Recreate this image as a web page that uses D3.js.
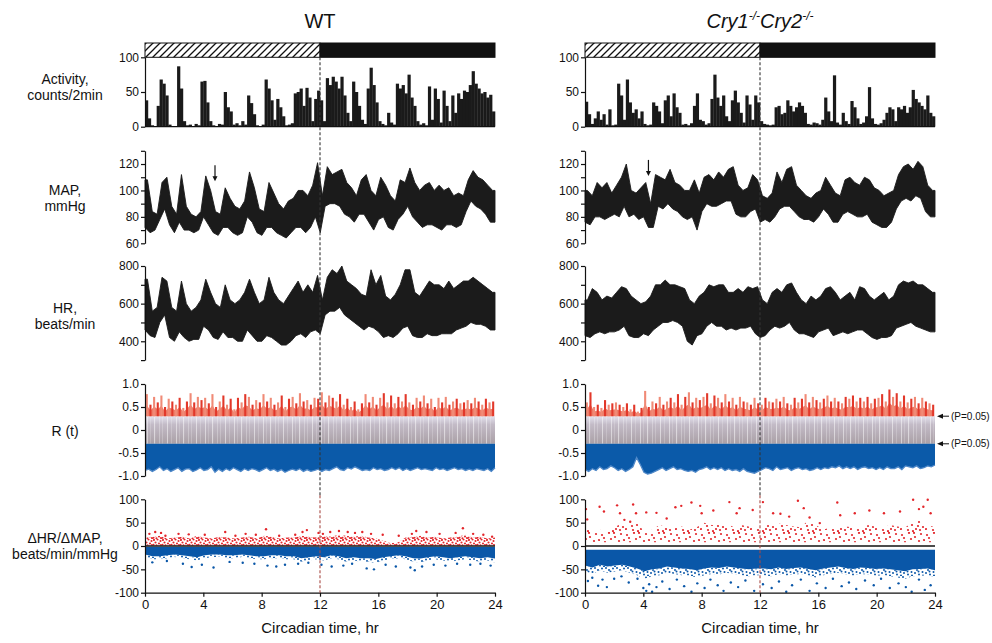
<!DOCTYPE html>
<meta charset="utf-8">
<body style="margin:0;background:#fff">
</body>
<script src="https://d3js.org/d3.v7.min.js"></script>
<script>

// ---------- data ----------
var hourTicks = [0, 4, 8, 12, 16, 20, 24];
var lightDark = [[0, 12, "light"], [12, 24, "dark"]];

// activity, counts/2min, one value every 12 min (5 per hour)
var actWT = [38,12,2,1,30, 68,62,45,3,1, 1,87,55,8,2, 3,1,4,2,65, 66,35,8,2,1, 4,3,50,28,22,
  3,5,2,8,3, 45,34,18,2,1, 3,68,55,38,10, 40,28,15,2,3, 5,48,50,55,30, 56,42,8,40,52,
  38,8,70,60,72, 65,55,72,45,20, 8,65,50,30,10, 4,55,85,60,35, 8,4,2,20,6, 3,62,55,60,48,
  75,42,30,8,3, 5,2,58,10,55, 40,6,52,30,8, 45,20,48,40,52, 50,60,80,62,55, 48,50,42,46,22];
var actCry = [36,18,4,12,22, 10,18,3,25,2, 3,62,45,10,68, 35,20,25,12,22, 4,2,3,35,30, 22,5,38,45,15,
  48,28,20,3,4, 2,5,30,48,10, 8,3,5,40,75, 42,30,45,15,8, 38,52,35,20,6, 45,32,10,45,35,
  8,4,3,2,3, 28,30,18,20,38, 30,22,28,35,30, 20,4,3,6,5, 3,10,42,22,8, 74,6,3,20,8,
  4,37,28,12,4, 6,15,57,12,4, 3,5,10,20,28, 25,8,28,25,30, 20,28,53,40,35, 30,25,45,20,15];

// MAP, mmHg: max / min of each 20-min stretch
var mapHiWT = [108,84,82, 106,110,88, 82,112,88, 82,80,84, 111,100,84, 82,102,94, 88,86,92, 114,102,86,
  84,106,98, 90,86,92, 94,100,100, 96,104,121, 96,118,112, 114,116,106, 102,96,108, 112,100,96,
  110,104,96, 92,108,106, 117,106,100, 104,106,100, 104,100,102, 96,98,96, 108,115,110, 108,104,100];
var mapLoWT = [72,68,70, 78,86,74, 68,76,70, 70,68,70, 80,74,68, 66,72,72, 68,66,68, 80,76,68,
  66,72,72, 68,66,64, 68,72,72, 68,72,80, 68,88,90, 90,88,82, 80,76,82, 82,76,70,
  78,80,72, 70,78,82, 88,80,76, 72,74,74, 72,70,74, 74,72,74, 84,92,88, 86,82,76];
var mapHiCry = [100,96,106, 102,106,98, 104,110,120, 100,98,102, 106,90,112, 110,108,116, 106,104,100, 100,108,98,
  110,112,108, 114,110,116, 118,104,100, 102,112,108, 96,94,98, 114,106,116, 118,104,100, 96,94,98,
  100,110,104, 98,96,108, 110,106,104, 110,108,102, 100,96,98, 100,112,118, 120,116,122, 118,104,100];
var mapLoCry = [76,74,80, 80,78,80, 82,80,88, 80,82,78, 80,72,72, 88,86,90, 86,84,80, 78,80,70,
  84,90,88, 88,90,92, 92,82,80, 80,84,86, 76,78,76, 80,86,88, 88,84,80, 78,78,76,
  80,86,82, 76,76,82, 84,82,80, 80,82,76, 74,72,72, 76,86,92, 94,92,96, 94,84,80];

// HR, beats/min: max / min of each 20-min stretch
var hrHiWT = [730,560,580, 740,720,580, 560,720,600, 560,580,620, 730,660,600, 580,700,620, 600,620,660, 730,660,600,
  620,740,660, 620,600,640, 680,720,660, 700,660,750, 620,740,780, 760,800,720, 700,680,650, 640,780,700,
  750,640,620, 650,700,780, 780,660,640, 680,720,700, 700,680,720, 680,700,720, 720,740,720, 700,680,660];
var hrLoWT = [460,430,420, 500,540,420, 400,450,420, 400,410,410, 480,460,420, 410,450,420, 420,400,400, 460,430,400,
  400,430,420, 400,380,380, 400,430,440, 420,450,460, 440,540,560, 560,580,540, 520,500,480, 460,480,470,
  450,420,430, 420,440,470, 480,430,420, 420,440,430, 430,440,440, 440,460,470, 480,500,490, 490,480,460];
var hrHiCry = [620,680,660, 620,640,630, 660,690,680, 640,620,600, 610,640,700, 700,725,700, 700,690,680, 620,600,640,
  660,700,690, 700,700,660, 660,680,660, 690,680,690, 620,600,660, 680,660,700, 710,660,620, 600,640,620,
  640,680,690, 660,620,640, 660,620,690, 680,640,620, 640,660,620, 640,700,720, 710,720,700, 700,680,660];
var hrLoCry = [430,420,440, 450,440,450, 450,460,480, 430,420,420, 440,430,460, 480,500,500, 510,500,480, 400,380,430,
  440,480,500, 480,480,460, 470,460,470, 470,480,440, 420,430,460, 480,470,480, 500,460,440, 440,430,420,
  450,460,470, 430,440,450, 440,450,460, 460,440,420, 410,420,420, 430,470,480, 490,500,480, 470,460,450];

// R(t): highest positive and lowest negative value of each 15-min stretch
var rThreshold = [-0.3, 0.3];
var rUpWT = [.78,.55,.72,.6, .75,.5,.68,.62, .55,.7,.48,.62, .8,.6,.72,.65, .7,.58,.78,.5, .62,.75,.55,.68,
  .45,.7,.6,.78, .72,.55,.65,.6, .78,.62,.7,.55, .6,.75,.5,.68, .72,.58,.8,.62, .65,.55,.7,.68,
  .82,.6,.75,.7, .62,.78,.55,.68, .5,.62,.45,.58, .78,.6,.72,.55, .7,.8,.6,.75, .58,.72,.62,.78,
  .6,.55,.7,.62, .75,.58,.68,.5, .7,.6,.72,.55, .62,.68,.58,.6, .65,.58,.7,.62, .55,.68,.6,.62];
var rLowWT = [-.88,-.85,-.9,-.86, -.8,-.88,-.84,-.9, -.86,-.82,-.9,-.85, -.84,-.9,-.87,-.82, -.88,-.86,-.8,-.92, -.85,-.9,-.84,-.88,
  -.82,-.86,-.9,-.84, -.88,-.84,-.86,-.9, -.86,-.82,-.88,-.85, -.9,-.86,-.92,-.88, -.85,-.88,-.84,-.9, -.86,-.9,-.88,-.85,
  -.9,-.86,-.88,-.84, -.8,-.86,-.88,-.82, -.85,-.8,-.84,-.88, -.86,-.88,-.82,-.86, -.84,-.88,-.86,-.82, -.86,-.82,-.88,-.84,
  -.88,-.85,-.82,-.86, -.84,-.86,-.88,-.82, -.86,-.84,-.88,-.85, -.82,-.86,-.84,-.88, -.85,-.88,-.84,-.86, -.88,-.84,-.9,-.82];
var rUpCry = [.6,.82,.5,.55, .48,.65,.55,.58, .6,.55,.5,.58, .45,.55,.4,.48, .85,.5,.62,.58, .72,.55,.62,.7,
  .6,.78,.55,.72, .82,.6,.7,.65, .72,.8,.58,.75, .7,.6,.78,.62, .7,.55,.72,.62, .6,.55,.7,.58,
  .55,.7,.62,.6, .68,.62,.72,.58, .55,.7,.6,.68, .78,.6,.72,.65, .6,.68,.75,.62, .7,.62,.58,.72,
  .68,.75,.62,.7, .62,.72,.58,.68, .7,.78,.62,.88, .72,.8,.62,.75, .6,.68,.72,.58, .7,.62,.58,.55];
var rLowCry = [-.86,-.9,-.84,-.88, -.8,-.86,-.84,-.78, -.82,-.88,-.84,-.9, -.86,-.8,-.6,-.75, -.92,-.96,-.94,-.9, -.86,-.82,-.88,-.84,
  -.8,-.86,-.84,-.88, -.9,-.88,-.92,-.86, -.84,-.8,-.86,-.82, -.86,-.82,-.88,-.84, -.88,-.86,-.9,-.84, -.9,-.92,-.94,-.9,
  -.86,-.82,-.84,-.88, -.8,-.86,-.84,-.82, -.88,-.84,-.82,-.86, -.84,-.88,-.86,-.82, -.86,-.82,-.84,-.8, -.82,-.78,-.84,-.8,
  -.84,-.8,-.86,-.82, -.8,-.84,-.82,-.86, -.82,-.86,-.8,-.84, -.84,-.8,-.86,-.78, -.8,-.82,-.78,-.84, -.82,-.78,-.8,-.76];

// dHR/dMAP: edges of the dense clouds (every 30 min) and the stray points
var dRedBase = [1, 8];
var dBlueTop = [-2, -8];
var dRedTopWT = [18,20, 22,16, 18,20, 16,22, 18,16, 20,18, 16,18, 20,16, 22,20, 16,18, 18,22, 20,18,
  22,20, 24,22, 20,22, 18,16, 12,6, 8,18, 20,22, 18,20, 16,18, 20,24, 18,20, 16,18];
var dBlueBotWT = [-18,-22, -22,-20, -18,-20, -22,-24, -20,-18, -18,-20, -20,-18, -20,-22, -22,-20, -20,-22, -22,-26, -24,-22,
  -24,-20, -22,-26, -24,-26, -26,-28, -24,-22, -20,-22, -26,-27, -24,-22, -24,-26, -24,-22, -24,-26, -24,-27];
var dRedTopCry = [40,30, 35,30, 40,50, 45,50, 30,35, 45,40, 38,42, 35,40, 50,45, 45,48, 40,45, 42,38,
  40,50, 48,45, 42,40, 55,45, 35,40, 38,42, 40,38, 45,42, 40,45, 42,40, 50,55, 45,40];
var dBlueBotCry = [-42,-46, -40,-44, -42,-40, -44,-48, -54,-50, -48,-44, -46,-48, -49,-52, -48,-46, -47,-44, -46,-48, -50,-48,
  -48,-50, -46,-49, -47,-46, -49,-52, -48,-46, -44,-47, -49,-46, -47,-49, -48,-50, -52,-54, -50,-49, -48,-52];
var dRedOutWT = [[0.3,26],[0.7,30],[1.1,28],[1.4,22],[2.3,26],[3.0,25],[4.1,24],[5.5,30],[6.2,22],[6.9,26],[7.6,24],
  [8.3,36],[9.2,22],[10.3,24],[10.8,30],[11.1,34],[11.9,28],[12.2,26],[12.7,30],[13.3,32],[13.9,30],[14.4,28],
  [14.9,30],[15.5,26],[16.3,24],[17.4,22],[18.3,26],[18.6,32],[19.3,30],[20.2,26],[21.3,28],[21.8,38],[22.5,26],
  [23.2,24],[23.8,20]];
var dBlueOutWT = [[0.5,-35],[1.5,-32],[2.6,-38],[3.2,-45],[3.9,-40],[4.7,-46],[5.8,-34],[6.7,-36],[7.5,-38],[8.4,-42],
  [9.0,-44],[9.6,-40],[10.5,-38],[11.2,-36],[12.1,-40],[12.8,-44],[13.6,-42],[14.2,-38],[15.2,-48],[15.7,-50],
  [16.5,-40],[17.2,-44],[18.2,-46],[18.5,-52],[19.0,-44],[19.8,-40],[20.6,-42],[21.4,-38],[22.3,-40],[23.0,-38],[23.7,-42]];
var dRedOutCry = [[0.07,79],[0.15,57],[1.0,84],[1.3,74],[2.2,87],[2.4,70],[2.7,56],[3.3,89],[3.5,70],[3.1,52],[4.2,72],
  [4.9,71],[5.6,59],[6.2,83],[6.6,86],[7.3,93],[7.9,86],[8.0,70],[8.8,76],[9.9,94],[10.4,70],[10.6,81],[11.5,77],
  [12.2,94],[12.9,70],[13.4,69],[14.0,63],[14.6,97],[15.0,81],[15.4,61],[16.1,49],[17.3,93],[17.5,66],[18.5,70],
  [19.5,76],[20.5,70],[21.6,74],[22.5,99],[22.9,79],[23.2,84],[23.5,99],[23.7,70]];
var dBlueOutCry = [[0.2,-75],[0.5,-68],[0.9,-85],[1.2,-72],[1.5,-88],[2.0,-70],[2.5,-65],[3.0,-78],[3.6,-70],[4.0,-90],
  [4.2,-96],[4.4,-82],[4.6,-98],[4.9,-88],[5.3,-76],[5.8,-92],[6.3,-72],[6.8,-86],[7.3,-98],[7.7,-80],[8.2,-90],
  [8.6,-72],[9.1,-84],[9.5,-96],[10.0,-78],[10.5,-88],[11.0,-74],[11.6,-96],[12.2,-82],[12.8,-90],[13.3,-76],
  [13.8,-98],[14.2,-84],[14.8,-72],[15.4,-96],[15.9,-80],[16.5,-90],[17.0,-70],[17.6,-86],[18.1,-78],[18.6,-92],
  [19.2,-74],[19.8,-84],[20.3,-70],[20.9,-90],[21.5,-80],[22.0,-88],[22.4,-98],[22.9,-72],[23.3,-94],[23.7,-84]];

// arrows on the MAP trace (hour, MAP at the tip)
var mapArrowHour = [4.8, 4.35];
var mapArrowTip = [107, 111];

// axes
var actTicks = [0, 50, 100];
var mapTicks = [60, 70, 80, 90, 100, 110, 120, 130];
var hrTicks = [300, 400, 500, 600, 700, 800];
var rTicks = [-1, -0.5, 0, 0.5, 1];
var rTickLabels = ["-1.0", "-0.5", "0", "0.5", "1.0"];
var dTicks = [-100, -50, 0, 50, 100];
var dTickLabels = ["-100", "-50", "0", "50", "100"];
var rowLabels = [["Activity,", "counts/2min"], ["MAP,", "mmHg"], ["HR,", "beats/min"], ["R (t)"], ["\u0394HR/\u0394MAP,", "beats/min/mmHg"]];

// ---------- drawing ----------
var font = "'Liberation Sans', Arial, Helvetica, sans-serif";
var svg = d3.select("body").append("svg")
  .attr("width", 992)
  .attr("height", 643)
  .style("font-family", font);

var yAct = d3.scaleLinear().domain([0, 100]).range([126.7, 57.3]);
var yMap = d3.scaleLinear().domain([60, 130]).range([243.3, 150.8]);
var yHr = d3.scaleLinear().domain([300, 800]).range([360.1, 266]);
var yR = d3.scaleLinear().domain([-1, 1]).range([476, 384]);
var yD = d3.scaleLinear().domain([-100, 100]).range([592.7, 499.3]);

var defs = svg.append("defs");
var hatch = defs.append("pattern").attr("id", "hatch").attr("patternUnits", "userSpaceOnUse")
  .attr("width", 7).attr("height", 7);
hatch.append("rect").attr("width", 7).attr("height", 7).attr("fill", "#fff");
hatch.append("path").attr("d", "M-1,1 L1,-1 M0,7 L7,0 M6,8 L8,6")
  .attr("stroke", "#111").attr("stroke-width", 1.3);

var grey = defs.append("linearGradient").attr("id", "greyBand")
  .attr("x1", 0).attr("y1", 0).attr("x2", 0).attr("y2", 1);
grey.append("stop").attr("offset", "0%").attr("stop-color", "#e4e2ee");
grey.append("stop").attr("offset", "30%").attr("stop-color", "#c3bbc7");
grey.append("stop").attr("offset", "100%").attr("stop-color", "#aaa0a6");

var streaks = defs.append("pattern").attr("id", "streaks").attr("patternUnits", "userSpaceOnUse")
  .attr("width", 29).attr("height", 60);
[[2, 0.8, 0.6], [5.5, 0.5, 0.35], [9, 1.1, 0.5], [14.5, 0.4, 0.7], [17, 0.7, 0.3], [22, 0.9, 0.55], [26, 0.5, 0.4]].forEach(function(s) {
  streaks.append("rect").attr("x", s[0]).attr("width", s[1]).attr("height", 60)
    .attr("fill", "#fff").attr("opacity", s[2]);
});

function dotPattern(id, w, h, pts, color, r) {
  var p = defs.append("pattern").attr("id", id).attr("patternUnits", "userSpaceOnUse")
    .attr("width", w).attr("height", h);
  pts.forEach(function(c) {
    p.append("circle").attr("cx", c[0]).attr("cy", c[1]).attr("r", r).attr("fill", color);
  });
}
dotPattern("redDense", 9, 7, [[1, 1], [4.5, 0.5], [7.5, 2], [2.5, 3.5], [6, 4.5], [0.5, 5.8], [3.5, 6.2], [8, 6]], "#e3262b", 1.05);
dotPattern("redSparse", 25, 19, [[2, 3], [9, 1], [15, 5], [21, 2], [5, 10], [12, 12], [19, 9], [23, 14], [1, 16], [8, 17],
  [16, 16], [11, 7], [18, 13], [4, 6], [24, 8], [13, 18], [7, 13], [20, 17], [14, 1]], "#e3262b", 1.1);
dotPattern("blueDots", 11, 9, [[1, 1], [4, 3], [8, 1.5], [2, 6], [6, 7.5], [9.5, 5], [10, 8.5], [5.5, 4.5]], "#0a57a8", 1);

function yAxis(g, scale, ticks, fmt, x0) {
  var ax = d3.axisLeft(scale).tickValues(ticks).tickSize(4).tickSizeOuter(0).tickPadding(2).tickFormat(fmt);
  var a = g.append("g").attr("transform", "translate(" + x0 + ",0)").call(ax);
  a.selectAll("text").attr("font-size", 12).attr("font-family", font).attr("fill", "#111");
  a.selectAll("line,path").attr("stroke", "#111").attr("stroke-width", 1.2);
  return a;
}

// black trace: band between each stretch's max and min, the two edges placed half a stretch apart
function drawTrace(g, x, y, hi, lo) {
  var n = hi.length, dt = 24 / n;
  var top = hi.map(function(v, i) { return [(i + 0.5) * dt, v]; });
  var bottom = lo.map(function(v, i) { return [i * dt + (i === 0 ? 0 : 0.05 * dt), v]; });
  bottom.push([24, lo[n - 1]]);
  top.unshift([0, hi[0]]);
  top.push([24, hi[n - 1]]);
  var pts = top.concat(bottom.reverse());
  g.append("path")
    .attr("d", d3.line().x(function(d) { return x(d[0]); }).y(function(d) { return y(d[1]); })(pts) + "Z")
    .attr("fill", "#1b1b1b").attr("stroke", "#1b1b1b").attr("stroke-width", 0.9).attr("stroke-linejoin", "miter");
}

function drawPanel(p) {
  var x = d3.scaleLinear().domain([0, 24]).range(p.range);
  var g = svg.append("g");

  // light / dark bar
  g.selectAll(".ld").data(lightDark).join("rect")
    .attr("x", function(d) { return x(d[0]); })
    .attr("width", function(d) { return x(d[1]) - x(d[0]); })
    .attr("y", 43).attr("height", yAct(100) - 43)
    .attr("fill", function(d) { return d[2] === "light" ? "url(#hatch)" : "#111"; })
    .attr("stroke", "#111").attr("stroke-width", 1);

  // activity bars
  var bw = (x(24) - x(0)) / p.act.length;
  g.selectAll(".act").data(p.act).join("rect")
    .attr("x", function(d, i) { return x(0) + i * bw; })
    .attr("width", bw + 0.3)
    .attr("y", function(d) { return yAct(d); })
    .attr("height", function(d) { return yAct(0) - yAct(d); })
    .attr("fill", "#1a1a1a");
  g.append("line").attr("x1", x(0)).attr("x2", x(24)).attr("y1", yAct(0)).attr("y2", yAct(0))
    .attr("stroke", "#111").attr("stroke-width", 1.3);
  yAxis(g, yAct, actTicks, d3.format("d"), x(0));

  // MAP
  drawTrace(g, x, yMap, p.mapHi, p.mapLo);
  yAxis(g, yMap, mapTicks, function(d) { return d % 20 === 0 && d <= 120 ? d : ""; }, x(0));
  var ax = x(p.arrowHour), ay = yMap(p.arrowTip);
  g.append("line").attr("x1", ax).attr("x2", ax).attr("y1", ay - 16).attr("y2", ay - 4)
    .attr("stroke", "#111").attr("stroke-width", 1.2);
  g.append("path").attr("d", "M" + (ax - 2.5) + "," + (ay - 5) + " L" + (ax + 2.5) + "," + (ay - 5) + " L" + ax + "," + ay + " Z")
    .attr("fill", "#111");

  // HR
  drawTrace(g, x, yHr, p.hrHi, p.hrLo);
  yAxis(g, yHr, hrTicks, function(d) { return d % 200 === 0 ? d : ""; }, x(0));

  // R(t)
  g.append("rect").attr("x", x(0)).attr("width", x(24) - x(0))
    .attr("y", yR(rThreshold[1])).attr("height", yR(rThreshold[0]) - yR(rThreshold[1]))
    .attr("fill", "url(#greyBand)");
  g.append("rect").attr("x", x(0)).attr("width", x(24) - x(0))
    .attr("y", yR(rThreshold[1])).attr("height", yR(rThreshold[0]) - yR(rThreshold[1]))
    .attr("fill", "url(#streaks)");
  var nr = p.rUp.length, rw = (x(24) - x(0)) / nr;
  var baseArea = d3.area()
    .x(function(d, i) { return x(0) + (i + 0.5) * rw; })
    .y0(yR(rThreshold[1]))
    .y1(function(d) { return yR(rThreshold[1] + (d - rThreshold[1]) * 0.5); });
  g.append("path").attr("d", baseArea(p.rUp)).attr("fill", "#ee7d69");
  g.selectAll(".rspike").data(p.rUp).join("line")
    .attr("x1", function(d, i) { return x(0) + (i + 0.5) * rw; })
    .attr("x2", function(d, i) { return x(0) + (i + 0.5) * rw; })
    .attr("y1", yR(rThreshold[1]))
    .attr("y2", function(d) { return yR(d); })
    .attr("stroke", function(d, i) { return i % 2 ? "#e2382a" : "#f08a76"; })
    .attr("stroke-width", 2.1);
  var lowArea = d3.area()
    .x(function(d, i) { return x(i * 24 / (nr - 1)); })
    .y0(yR(rThreshold[0]))
    .y1(function(d) { return yR(d); });
  g.append("path").attr("d", lowArea(p.rLow)).attr("fill", "#0b5aa9");
  g.append("path").attr("d", lowArea.lineY1()(p.rLow)).attr("fill", "none")
    .attr("stroke", "#4f88c8").attr("stroke-width", 1.3);
  yAxis(g, yR, rTicks, function(d, i) { return rTickLabels[i]; }, x(0));

  // dHR/dMAP
  var nd = p.redTop.length;
  var xd = function(d, i) { return x(i * 24 / (nd - 1)); };
  g.append("path").attr("d", d3.area().x(xd).y0(yD(p.redBase)).y1(function(d) { return yD(d); })(p.redTop))
    .attr("fill", p.redFill);
  g.append("path").attr("d", d3.area().x(xd).y0(yD(p.blueTop)).y1(function(d) { return yD(d); })(p.blueBot))
    .attr("fill", "#0a57a8");
  g.append("path").attr("d", d3.area().x(xd).y0(function(d) { return yD(d); }).y1(function(d) { return yD(d * 1.3); })(p.blueBot))
    .attr("fill", "url(#blueDots)");
  g.selectAll(".rout").data(p.redOut).join("circle")
    .attr("cx", function(d) { return x(d[0]); }).attr("cy", function(d) { return yD(d[1]); })
    .attr("r", 1.2).attr("fill", "#e3262b");
  g.selectAll(".bout").data(p.blueOut).join("circle")
    .attr("cx", function(d) { return x(d[0]); }).attr("cy", function(d) { return yD(d[1]); })
    .attr("r", 1.2).attr("fill", "#0a57a8");
  g.append("line").attr("x1", x(0)).attr("x2", x(24)).attr("y1", yD(0)).attr("y2", yD(0))
    .attr("stroke", "#111").attr("stroke-width", 1.4);
  yAxis(g, yD, dTicks, function(d, i) { return dTickLabels[i]; }, x(0));
  var xa = g.append("g").attr("transform", "translate(0," + yD(-100) + ")")
    .call(d3.axisBottom(x).tickValues(hourTicks).tickSize(4).tickSizeOuter(0).tickPadding(3));
  xa.selectAll("text").attr("font-size", 13).attr("font-family", font).attr("fill", "#111");
  xa.selectAll("line,path").attr("stroke", "#111").attr("stroke-width", 1.2);
  g.append("text").attr("x", x(12)).attr("y", 633).attr("text-anchor", "middle")
    .attr("font-size", 15).attr("fill", "#111").text("Circadian time, hr");

  // CT12 dashed line
  g.append("line").attr("x1", x(12)).attr("x2", x(12)).attr("y1", yAct(100)).attr("y2", yD(100) - 4)
    .attr("stroke", "#333").attr("stroke-width", 1.1).attr("stroke-dasharray", "3,2");
  g.append("line").attr("x1", x(12)).attr("x2", x(12)).attr("y1", yD(100) - 4).attr("y2", yD(-100))
    .attr("stroke", "#a84a44").attr("stroke-width", 1.1).attr("stroke-dasharray", "3,2");

  // title
  var t = g.append("text").attr("x", x(12)).attr("y", 28).attr("text-anchor", "middle")
    .attr("font-size", 20).attr("fill", "#111");
  p.title.forEach(function(part) {
    var ts = t.append("tspan").text(part[0]);
    if (part[1] === "i") ts.attr("font-style", "italic");
    if (part[1] === "sup") ts.attr("font-style", "italic").attr("font-size", 12).attr("dy", -8);
    if (part[1] === "down") ts.attr("font-style", "italic").attr("dy", 8);
  });

  // significance markers
  if (p.showP) {
    rThreshold.forEach(function(v) {
      var yy = yR(v);
      g.append("line").attr("x1", x(24) + 5).attr("x2", x(24) + 14).attr("y1", yy).attr("y2", yy)
        .attr("stroke", "#111").attr("stroke-width", 1);
      g.append("path").attr("d", "M" + (x(24) + 2) + "," + yy + " L" + (x(24) + 8) + "," + (yy - 2.5) + " L" + (x(24) + 8) + "," + (yy + 2.5) + " Z")
        .attr("fill", "#111");
      g.append("text").attr("x", x(24) + 16).attr("y", yy + 3.5).attr("font-size", 10)
        .attr("fill", "#111").text("(P=0.05)");
    });
  }
}

drawPanel({
  range: [145, 495], title: [["WT", ""]],
  act: actWT, mapHi: mapHiWT, mapLo: mapLoWT, hrHi: hrHiWT, hrLo: hrLoWT,
  arrowHour: mapArrowHour[0], arrowTip: mapArrowTip[0],
  rUp: rUpWT, rLow: rLowWT,
  redTop: dRedTopWT, blueBot: dBlueBotWT, redBase: dRedBase[0], blueTop: dBlueTop[0], redFill: "url(#redDense)",
  redOut: dRedOutWT, blueOut: dBlueOutWT, showP: false
});
drawPanel({
  range: [585, 935], title: [["Cry1", "i"], ["-/-", "sup"], ["Cry2", "down"], ["-/-", "sup"]],
  act: actCry, mapHi: mapHiCry, mapLo: mapLoCry, hrHi: hrHiCry, hrLo: hrLoCry,
  arrowHour: mapArrowHour[1], arrowTip: mapArrowTip[1],
  rUp: rUpCry, rLow: rLowCry,
  redTop: dRedTopCry, blueBot: dBlueBotCry, redBase: dRedBase[1], blueTop: dBlueTop[1], redFill: "url(#redSparse)",
  redOut: dRedOutCry, blueOut: dBlueOutCry, showP: true
});

// row labels on the left
var labelY = [[84, 100], [195, 211], [313, 329], [436], [543, 559]];
rowLabels.forEach(function(lines, r) {
  lines.forEach(function(s, k) {
    svg.append("text").attr("text-anchor", "middle").attr("font-size", 14).attr("fill", "#111")
      .attr("x", 65).attr("y", labelY[r][k]).text(s);
  });
});

</script>
